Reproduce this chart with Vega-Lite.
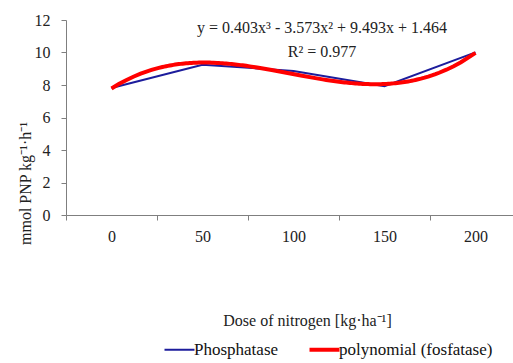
{
  "$schema": "https://vega.github.io/schema/vega-lite/v6.json",
  "autosize": {"type": "none"},
  "padding": {"left": 66, "top": 20, "right": 0, "bottom": 148},
  "width": 447,
  "height": 195,
  "config": {
    "view": {"stroke": null},
    "font": "Liberation Serif",
    "axis": {"grid": false, "domainColor": "#7f7f7f", "tickColor": "#7f7f7f", "labelColor": "#222222", "titleColor": "#222222", "labelFont": "Liberation Serif", "titleFont": "Liberation Serif", "labelFontSize": 16, "titleFontSize": 16, "titleFontWeight": "normal", "tickSize": 5},
    "axisY": {"labelOverlap": false, "labelBound": false, "tickCount": 7, "labelPadding": 11},
    "axisQuantitative": {"labelOverlap": false}
  },
  "layer": [
    {
      "data": {"values": [
        {"x": 0, "y": 7.82},
        {"x": 50, "y": 9.25},
        {"x": 100, "y": 8.865},
        {"x": 150, "y": 7.93},
        {"x": 200, "y": 10.01}
      ]},
      "layer": [
        {
          "mark": {"type": "line", "strokeWidth": 2},
          "encoding": {
            "x": {"field": "x", "type": "quantitative", "scale": {"domain": [-25, 220.6], "nice": false, "zero": false},
              "axis": {"values": [-25, 0, 25, 50, 75, 100, 125, 150, 175, 200, 225], "labelExpr": "datum.value % 50 === 0 ? datum.label : ''", "tickOpacity": {"condition": {"test": "datum.value % 50 === 0", "value": 0}, "value": 1}, "labelFlush": false, "labelOverlap": false, "labelPadding": 8, "title": "Dose of nitrogen [kg·ha⁻¹]", "titleX": 241, "titleY": 105, "titleBaseline": "middle", "titleAlign": "center"}},
            "y": {"field": "y", "type": "quantitative", "scale": {"domain": [0, 12], "nice": false},
              "axis": {"values": [0, 2, 4, 6, 8, 10, 12], "labelOverlap": false, "labelFlush": false, "title": "mmol PNP kg⁻¹·h⁻¹", "titleX": -41, "titleY": 163, "titleAlign": "center", "titleBaseline": "middle", "titleAngle": -90}},
            "color": {"datum": "Phosphatase", "type": "nominal",
              "scale": {"domain": ["Phosphatase", "polynomial (fosfatase)"], "range": ["#1c1c9c", "#ff0000"]},
              "legend": {"title": null, "orient": "none", "direction": "horizontal", "legendX": 105, "legendY": 321, "symbolType": "stroke", "symbolSize": 900, "symbolStrokeWidth": 2, "labelFont": "Liberation Serif", "labelFontSize": 17, "labelColor": "#111111", "labelOffset": 6, "columnPadding": 22, "padding": 0,
                "encode": {"symbols": {"update": {"strokeWidth": {"signal": "datum.value === 'Phosphatase' ? 2 : 4"}}}}}}
          }
        },
        {
          "transform": [{"regression": "y", "on": "x", "method": "poly", "order": 3, "extent": [0, 200]}],
          "mark": {"type": "line", "strokeWidth": 4},
          "encoding": {
            "x": {"field": "x", "type": "quantitative"},
            "y": {"field": "y", "type": "quantitative"},
            "color": {"datum": "polynomial (fosfatase)", "type": "nominal"}
          }
        }
      ]
    },
    {
      "data": {"values": [{"note": "trend"}]},
      "mark": {"type": "text", "font": "Liberation Serif", "fontSize": 16, "fontWeight": "normal", "align": "center", "baseline": "middle", "lineHeight": 24, "fill": "#222222"},
      "encoding": {
        "x": {"datum": 115.7, "type": "quantitative"},
        "y": {"datum": 11.5, "type": "quantitative"},
        "text": {"value": ["y = 0.403x³ - 3.573x² + 9.493x + 1.464", "R² = 0.977"]}
      }
    }
  ]
}
